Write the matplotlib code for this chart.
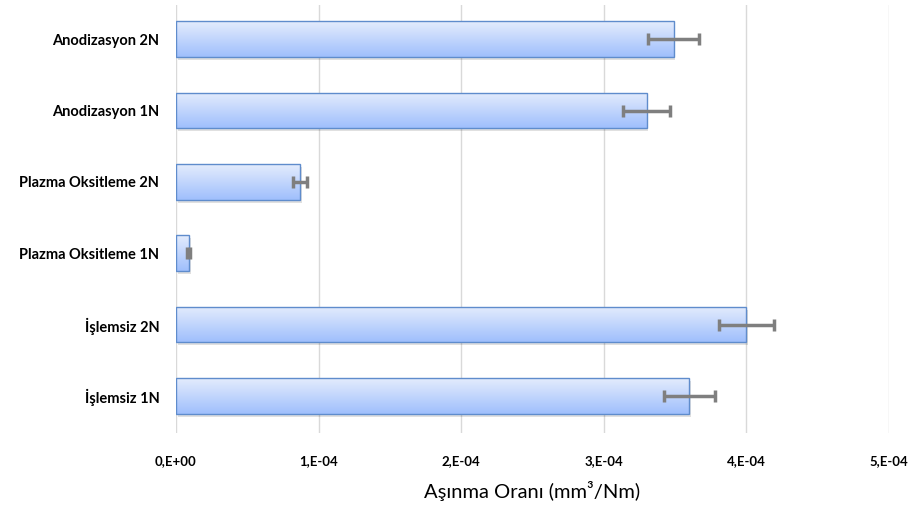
import numpy as np
import matplotlib.pyplot as plt
from matplotlib.colors import LinearSegmentedColormap

# Data (top to bottom as shown in the chart)
categories = ["Anodizasyon 2N", "Anodizasyon 1N", "Plazma Oksitleme 2N",
              "Plazma Oksitleme 1N", "İşlemsiz 2N", "İşlemsiz 1N"]
wear_rate = [3.49e-4, 3.30e-4, 0.87e-4, 0.09e-4, 4.00e-4, 3.60e-4]
wear_err = [0.18e-4, 0.165e-4, 0.05e-4, 0.01e-4, 0.195e-4, 0.18e-4]
x_ticks = [0, 1e-4, 2e-4, 3e-4, 4e-4, 5e-4]
x_ticklabels = ["0,E+00", "1,E-04", "2,E-04", "3,E-04", "4,E-04", "5,E-04"]

fig = plt.figure(figsize=(9.09, 5.09), dpi=100)
ax = fig.add_axes([0.1936, 0.1493, 0.7844, 0.8407])

y = np.arange(len(categories))[::-1]

# vertical grid
for t in x_ticks:
    ax.axvline(t, color="#d9d9d9", linewidth=1, zorder=0)

bars = ax.barh(y, wear_rate, height=0.5, color="none", edgecolor="#5f8ccc",
               linewidth=1, zorder=3)

# gradient fill clipped to each bar
cmap = LinearSegmentedColormap.from_list("g", ["#9fbffc", "#e4ecfd"])
grad = np.linspace(0, 1, 100).reshape(-1, 1)
for b in bars:
    x0, y0 = b.get_x(), b.get_y()
    w, h = b.get_width(), b.get_height()
    shadow = plt.Rectangle((x0 + 0.012e-4, y0 - 0.04), w, h, color="#000000",
                           alpha=0.12, zorder=1, linewidth=0)
    ax.add_patch(shadow)
    im = ax.imshow(grad, extent=[x0, x0 + w, y0, y0 + h], aspect="auto",
                   cmap=cmap, origin="lower", zorder=2)
    im.set_clip_path(b)

ax.errorbar(wear_rate, y, xerr=wear_err, fmt="none", ecolor="#7f7f7f",
            elinewidth=2.5, capsize=4, capthick=2.5, zorder=4)

ax.set_xlim(0, 5e-4)
ax.set_ylim(-0.52, 5.48)
ax.set_xticks(x_ticks)
ax.set_xticklabels(x_ticklabels, fontsize=9.5, fontweight="bold", family="Lato")
ax.set_yticks(y)
ax.set_yticklabels(categories, fontsize=10.5, fontweight="bold", family="Lato")
ax.tick_params(length=0)
ax.tick_params(axis="x", pad=16)
ax.tick_params(axis="y", pad=12)
for s in ax.spines.values():
    s.set_visible(False)

ax.set_xlabel("Aşınma Oranı (mm³/Nm)", fontsize=14.5, family="Lato",
              labelpad=10)

fig.savefig("out.png", dpi=100)
